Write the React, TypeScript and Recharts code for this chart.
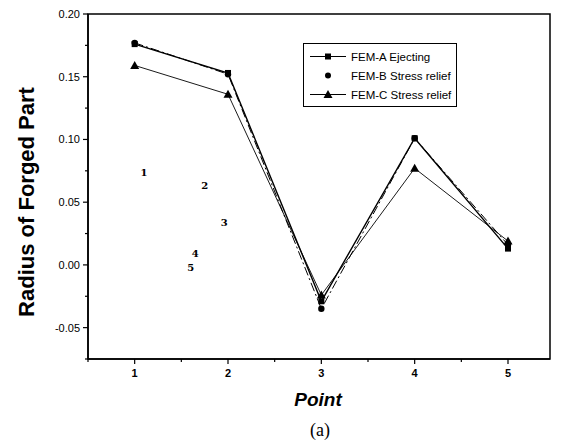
import React from "react";
import {
  LineChart, Line, XAxis, YAxis, ReferenceArea, ReferenceDot,
} from "recharts";

const points = [1, 2, 3, 4, 5];
const femA = [0.176, 0.153, -0.029, 0.101, 0.013];
const femB = [0.177, 0.152, -0.035, 0.101, 0.016];
const femC = [0.159, 0.136, -0.024, 0.077, 0.019];

const xTicks = [0.5, 1, 1.5, 2, 2.5, 3, 3.5, 4, 4.5, 5];
const yTicks = [-0.075, -0.05, -0.025, 0, 0.025, 0.05, 0.075, 0.1, 0.125, 0.15, 0.175, 0.2];

// stray point labels printed inside the plot of the original figure
const noteLabels = ["1", "2", "3", "4", "5"];
const noteX = [1.1, 1.75, 1.96, 1.65, 1.6];
const noteY = [0.074, 0.063, 0.034, 0.009, -0.002];

const FONT = "Liberation Sans, Arial, sans-serif";

const data = points.map((p, i) => ({ x: p, a: femA[i], b: femB[i], c: femC[i] }));

function isMajorX(v: number) {
  return Math.abs(v - Math.round(v)) < 1e-6;
}
function isMajorY(v: number) {
  return Math.abs(v * 20 - Math.round(v * 20)) < 1e-6;
}

// eslint-disable-next-line @typescript-eslint/no-explicit-any
function XTick(props: any) {
  const { x, y, payload } = props;
  const major = isMajorX(payload.value);
  return (
    <g>
      <line x1={x} x2={x} y1={y} y2={y + (major ? 5 : 3)} stroke="#000" strokeWidth={1.2} />
      {major && payload.value >= 1 && (
        <text x={x} y={y + 18} textAnchor="middle" fontSize={11} fontWeight="bold" fontFamily={FONT} fill="#000">
          {payload.value}
        </text>
      )}
    </g>
  );
}

// eslint-disable-next-line @typescript-eslint/no-explicit-any
function YTick(props: any) {
  const { x, y, payload } = props;
  const major = isMajorY(payload.value) && payload.value > -0.07;
  return (
    <g>
      <line x1={x} x2={x - (major ? 5 : 3)} y1={y} y2={y} stroke="#000" strokeWidth={1.2} />
      {major && (
        <text x={x - 8} y={y + 4} textAnchor="end" fontSize={11} fontFamily={FONT} fill="#000">
          {payload.value.toFixed(2)}
        </text>
      )}
    </g>
  );
}

// eslint-disable-next-line @typescript-eslint/no-explicit-any
function SquareDot(props: any) {
  const { cx, cy } = props;
  return <rect x={cx - 3} y={cy - 3} width={6} height={6} fill="#000" />;
}
// eslint-disable-next-line @typescript-eslint/no-explicit-any
function CircleDot(props: any) {
  const { cx, cy } = props;
  return <circle cx={cx} cy={cy} r={3.2} fill="#000" />;
}
// eslint-disable-next-line @typescript-eslint/no-explicit-any
function TriangleDot(props: any) {
  const { cx, cy } = props;
  return <path d={`M${cx},${cy - 4.5} L${cx + 4.5},${cy + 3.5} L${cx - 4.5},${cy + 3.5} Z`} fill="#000" />;
}

const legendRows = [
  { label: "FEM-A Ejecting", line: true, marker: "square" },
  { label: "FEM-B Stress relief", line: false, marker: "circle" },
  { label: "FEM-C Stress relief", line: true, marker: "triangle" },
];

function LegendBox() {
  return (
    <div style={{ position: "absolute", left: 303, top: 43, border: "1px solid #000", background: "#fff", width: 152, padding: "3px 0 2px 0", fontFamily: FONT }}>
      {legendRows.map((r) => (
        <div key={r.label} style={{ display: "flex", alignItems: "center", height: 19 }}>
          <svg width={47} height={19} style={{ flex: "none" }}>
            {r.line && <line x1={6} x2={42} y1={9.5} y2={9.5} stroke="#000" strokeWidth={1.2} />}
            {r.marker === "square" && <rect x={21} y={6.5} width={6} height={6} fill="#000" />}
            {r.marker === "circle" && <circle cx={24} cy={9.5} r={3} fill="#000" />}
            {r.marker === "triangle" && <path d="M24,5 L28.5,13 L19.5,13 Z" fill="#000" />}
          </svg>
          <span style={{ fontSize: 11.5, color: "#000", whiteSpace: "nowrap" }}>{r.label}</span>
        </div>
      ))}
    </div>
  );
}

export default function App() {
  return (
    <div style={{ position: "absolute", left: 0, top: 0, width: 561, height: 447, background: "#fff" }}>
      <LineChart width={561} height={447} data={data} margin={{ top: 14, right: 11, left: 28, bottom: 58 }}>
        <XAxis
          dataKey="x"
          type="number"
          domain={[0.5, 5.45]}
          ticks={xTicks}
          allowDataOverflow
          tickSize={0}
          tickMargin={0}
          tickLine={false}
          tick={<XTick />}
          height={30}
          axisLine={{ stroke: "#000", strokeWidth: 1.5 }}
          interval={0}
        />
        <YAxis
          type="number"
          domain={[-0.075, 0.2]}
          ticks={yTicks}
          allowDataOverflow
          tickSize={0}
          tickMargin={0}
          tickLine={false}
          tick={<YTick />}
          width={60}
          axisLine={{ stroke: "#000", strokeWidth: 1.5 }}
          interval={0}
        />
        <ReferenceArea x1={0.5} x2={5.45} y1={-0.075} y2={0.2} fill="none" stroke="#000" strokeWidth={1.5} ifOverflow="visible" />
        <Line dataKey="c" stroke="#000" strokeWidth={0.9} dot={<TriangleDot />} isAnimationActive={false} />
        <Line dataKey="b" stroke="#000" strokeWidth={1} strokeDasharray="9 3 2 3" dot={<CircleDot />} isAnimationActive={false} />
        <Line dataKey="a" stroke="#000" strokeWidth={1.4} dot={<SquareDot />} isAnimationActive={false} />
        {noteLabels.map((t, i) => (
          <ReferenceDot
            key={t}
            x={noteX[i]}
            y={noteY[i]}
            r={0}
            fill="none"
            stroke="none"
            label={{ value: t, position: "center", fontSize: 10, fontWeight: "bold", fontFamily: "DejaVu Serif, serif", fill: "#000" }}
          />
        ))}
      </LineChart>
      <LegendBox />
      <div style={{ position: "absolute", left: 27, top: 202, transform: "translate(-50%, -50%) rotate(-90deg)", fontFamily: FONT, fontWeight: "bold", fontSize: 22, whiteSpace: "nowrap", color: "#000" }}>
        Radius of Forged Part
      </div>
      <div style={{ position: "absolute", left: 318, top: 400, transform: "translate(-50%, -50%)", fontFamily: FONT, fontWeight: "bold", fontStyle: "italic", fontSize: 19, color: "#000" }}>
        Point
      </div>
      <div style={{ position: "absolute", left: 320, top: 430, transform: "translate(-50%, -50%)", fontFamily: "Liberation Serif, serif", fontSize: 18, color: "#000" }}>
        (a)
      </div>
    </div>
  );
}
